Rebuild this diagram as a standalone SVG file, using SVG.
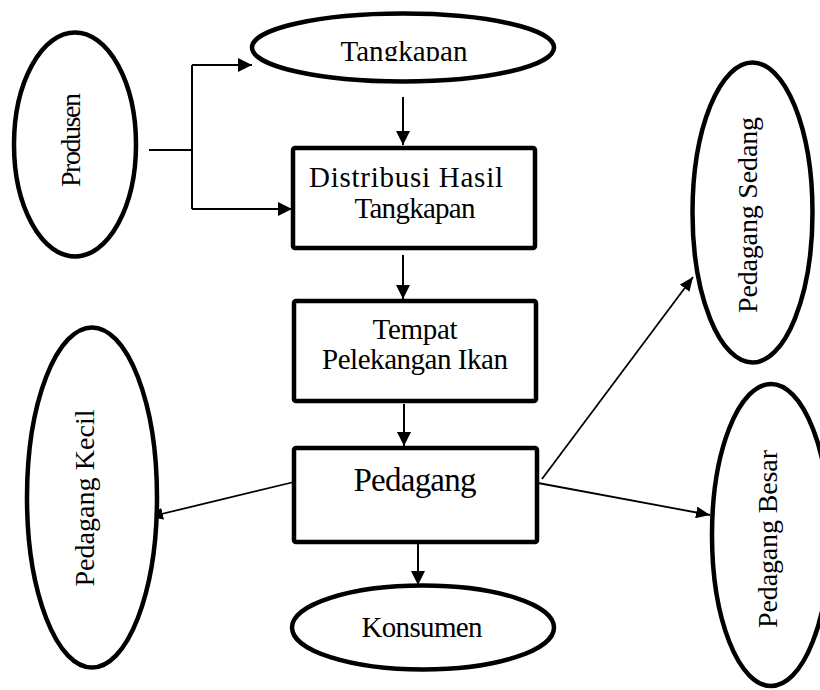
<svg xmlns="http://www.w3.org/2000/svg" width="820" height="690" viewBox="0 0 820 690">
  <style>
    .shape { fill: #ffffff; stroke: #000000; stroke-width: 4.5; }
    .label { font-family: "Liberation Serif", "Times New Roman", serif; font-size: 29px; fill: #000000; text-anchor: middle; }
    .side { font-size: 28px; }
    .big { font-size: 33px; }
    .wire { fill: none; stroke: #000000; stroke-width: 2; }
    .thin { fill: none; stroke: #000000; stroke-width: 1.8; }
  </style>
  <defs>
    <marker id="head" viewBox="0 0 14 14" refX="14" refY="7" markerWidth="14" markerHeight="14" markerUnits="userSpaceOnUse" orient="auto">
      <path d="M0,0 L14,7 L0,14 Z" fill="#000000"/>
    </marker>
    <marker id="headSmall" viewBox="0 0 14 12" refX="14" refY="6" markerWidth="14" markerHeight="12" markerUnits="userSpaceOnUse" orient="auto">
      <path d="M0,0 L14,6 L0,12 Z" fill="#000000"/>
    </marker>
    <clipPath id="tangkapanClip">
      <rect x="250" y="10" width="310" height="51"/>
    </clipPath>
  </defs>

  <rect width="820" height="690" fill="#ffffff"/>

  <!-- connectors -->
  <g id="connectors">
    <path class="wire" d="M149,150 H192 M192,65 V209"/>
    <path class="wire" d="M192,65 H252" marker-end="url(#head)"/>
    <path class="wire" d="M192,209 H292" marker-end="url(#head)"/>
    <path class="wire" d="M403,97 V145" marker-end="url(#head)"/>
    <path class="wire" d="M403,255 V299" marker-end="url(#head)"/>
    <path class="wire" d="M404,404 V446" marker-end="url(#head)"/>
    <path class="wire" d="M418,542 V585" marker-end="url(#head)"/>
    <path class="thin" d="M294,482 L149,517" marker-end="url(#headSmall)"/>
    <path class="thin" d="M542,479 L693,277" marker-end="url(#headSmall)"/>
    <path class="thin" d="M538,483 L710,515" marker-end="url(#headSmall)"/>
  </g>

  <!-- nodes -->
  <g id="produsen">
    <ellipse class="shape" cx="75" cy="144.5" rx="61" ry="112"/>
    <text class="label side" transform="translate(80,140) rotate(-90)" textLength="94" lengthAdjust="spacing">Produsen</text>
  </g>

  <g id="tangkapan">
    <ellipse class="shape" cx="403" cy="47.5" rx="151" ry="34"/>
    <text class="label" x="404" y="61" textLength="127" lengthAdjust="spacing" clip-path="url(#tangkapanClip)">Tangkapan</text>
  </g>

  <g id="distribusi">
    <rect class="shape" x="293" y="148" width="242" height="100" rx="2"/>
    <text class="label" x="406" y="187" textLength="194" lengthAdjust="spacing">Distribusi Hasil</text>
    <text class="label" x="415" y="218" textLength="121" lengthAdjust="spacing">Tangkapan</text>
  </g>

  <g id="tempat">
    <rect class="shape" x="294" y="301" width="242" height="100" rx="2"/>
    <text class="label" x="415" y="339" textLength="85" lengthAdjust="spacing">Tempat</text>
    <text class="label" x="415" y="369" textLength="186" lengthAdjust="spacing">Pelekangan Ikan</text>
  </g>

  <g id="pedagang">
    <rect class="shape" x="294" y="448" width="243" height="94" rx="2"/>
    <text class="label big" x="415" y="491" textLength="123" lengthAdjust="spacing">Pedagang</text>
  </g>

  <g id="konsumen">
    <ellipse class="shape" cx="423" cy="627.5" rx="131" ry="42"/>
    <text class="label" x="422" y="637" textLength="121" lengthAdjust="spacing">Konsumen</text>
  </g>

  <g id="pedagang-kecil">
    <ellipse class="shape" cx="92" cy="497.5" rx="65" ry="170"/>
    <text class="label side" transform="translate(94,498) rotate(-90)" textLength="177" lengthAdjust="spacing">Pedagang Kecil</text>
  </g>

  <g id="pedagang-sedang">
    <ellipse class="shape" cx="752.5" cy="212.5" rx="60" ry="150"/>
    <text class="label side" transform="translate(757,215) rotate(-90)" textLength="196" lengthAdjust="spacing">Pedagang Sedang</text>
  </g>

  <g id="pedagang-besar">
    <ellipse class="shape" cx="771" cy="535" rx="59" ry="151"/>
    <text class="label side" transform="translate(777,539) rotate(-90)" textLength="178" lengthAdjust="spacing">Pedagang Besar</text>
  </g>
</svg>
